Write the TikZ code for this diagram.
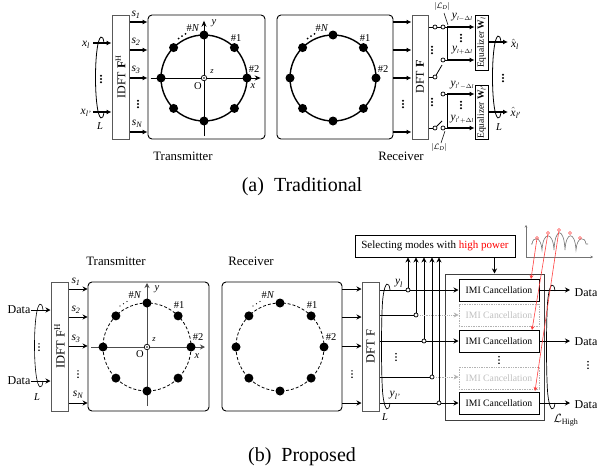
\documentclass[tikz,border=0pt]{standalone}
\usepackage{amsmath}
\usepackage{fontspec}
\setmainfont{Liberation Serif}
\usetikzlibrary{arrows.meta}
\newcommand\vi[1]{\textit{#1}}
\newcommand\vsub[2]{$\textit{#1}_{\textit{#2}}$}
\newcommand\yd[1]{\textit{y}\raisebox{-2pt}{\fontsize{5.8}{6}\selectfont #1}}
\newcommand\ringset[5]{%
 \begin{scope}[shift={(#2,#3)}]
  \draw[#4] (0,0) circle (#5);
  \foreach \a in {0,45,...,315}{\node[ringdot] (#1\a) at (\a:#5) {};}
 \end{scope}}
\newcommand\lcurve[4][tline]{\draw[#1] (#2+4,#3) .. controls (#2+3,#3-9) and (#2-1,#3-9) .. (#2-3,#3+7) .. controls (#2-5,#3+22) and (#2-5,#4-22) .. (#2-3,#4-7) .. controls (#2-1,#4+9) and (#2+3,#4+9) .. (#2+4,#4);}
\newcommand\vdotsb[3]{\foreach \d in {-3.2,0,3.2}{\fill (#1,#2+\d) circle (#3);}}
\newcommand\sdots[3]{\foreach \d in {0,3.5,7}{\fill (#1+\d,#2-\d*0.65) circle (#3);}}
\tikzset{
 tline/.style={line width=0.8pt,black},
 thk/.style={line width=1.5pt,black,-{Latex[length=5pt,width=5pt]}},
 thn/.style={line width=0.8pt,black,-{Stealth[length=5pt,width=5pt]}},
 gbox/.style={draw=black!65,fill=white,line width=1pt,inner sep=0pt},
 panel/.style={draw,line width=0.9pt,rounded corners=4pt,inner sep=0pt},
 ringdot/.style={circle,fill=black,inner sep=0pt,minimum size=9pt},
 port/.style={circle,draw,fill=white,line width=0.7pt,inner sep=0pt,minimum size=4pt},
 lab/.style={inner sep=0pt,font=\fontsize{10.5}{11}\selectfont},
 big/.style={inner sep=0pt,font=\fontsize{11.5}{12}\selectfont},
 small/.style={inner sep=0pt,font=\fontsize{8.5}{9}\selectfont},
 ttl/.style={inner sep=0pt,font=\fontsize{12.8}{14}\selectfont},
 captext/.style={inner sep=0pt,font=\fontsize{20}{22}\selectfont},
 rot/.style={inner sep=0pt,rotate=90,font=\fontsize{12}{13}\selectfont},
 eqt/.style={inner sep=0pt,rotate=90,font=\fontsize{9.5}{10}\selectfont},
 imi/.style={draw,line width=1pt,inner sep=0pt,minimum width=80pt,minimum height=22pt,font=\fontsize{9.7}{11}\selectfont},
 ghost/.style={draw=black!30,densely dotted,line width=0.7pt,inner sep=0pt,minimum width=80pt,minimum height=22pt,text=black!25,font=\fontsize{9.7}{11}\selectfont},
 redarr/.style={red!75,line width=0.6pt,-{Stealth[length=4pt,width=4pt]}},
 redring/.style={circle,draw=red!70,inner sep=0pt,minimum size=3pt,line width=0.5pt},
 axisline/.style={line width=1pt,black},
 axisarr/.style={line width=1pt,black,-{Stealth[length=6pt,width=5pt]}},
 axisthin/.style={black!70,line width=0.8pt},
 axisthinarr/.style={black!70,line width=0.8pt,-{Stealth[length=5pt,width=5pt]}},
 centre/.style={circle,draw,line width=0.7pt,fill=white,inner sep=0pt,minimum size=5.5pt},
}
\begin{document}
\begin{tikzpicture}[x=1pt,y=-1pt]
\useasboundingbox (0,0) rectangle (597,474);
%%%%%% TOP
\node[gbox,minimum width=17pt,minimum height=124pt] (idftA) at (120.5,77) {};
\node[rot] (idftAt) at (idftA.center) {IDFT \textbf{F}$^{\text{H}}$};
\node[panel,minimum width=117pt,minimum height=124pt] (txA) at (206.5,77) {};
\node[panel,minimum width=116pt,minimum height=124pt] (rxA) at (335,77) {};
\node[gbox,minimum width=16pt,minimum height=124pt] (dftA) at (420,77) {};
\node[rot] (dftAt) at (dftA.center) {DFT \textbf{F}};
\node[draw,line width=0.9pt,inner sep=0pt,minimum width=13pt,minimum height=55pt] (eqA) at (481.5,42.5) {};
\node[eqt] (eqAt) at (eqA.center) {Equalizer \textbf{W}$_{\textit{l}}$};
\node[draw,line width=0.9pt,inner sep=0pt,minimum width=13pt,minimum height=54pt] (eqB) at (481.5,112) {};
\node[eqt] (eqBt) at (eqB.center) {Equalizer \textbf{W}$_{\textit{l}'}$};
% inputs
\coordinate (xa) at (93,43); \coordinate (xb) at (93,112);
\draw[thk] (xa) -- (idftA.west |- xa);
\draw[thk] (xb) -- (idftA.west |- xb);
\node[big] (xal) at (86,45) {\vsub{x}{l}};
\node[big] (xbl) at (86,113) {\vsub{x}{l'}};
\lcurve{100}{43}{112}
\vdotsb{101}{79}{1.1}
\node[lab] (La) at (100,126) {\vi{L}};
% s arrows
\foreach \y in {22,50,78,132}{
  \draw[thk] (idftA.east |- 0,\y) -- (txA.west |- 0,\y);
  \draw[thk] (rxA.east |- 0,\y) -- (dftA.west |- 0,\y);
}
\node[big] (s1) at (136,15) {\vsub{s}{1}};
\node[big] (s2) at (136,42) {\vsub{s}{2}};
\node[big] (s3) at (136,70) {\vsub{s}{3}};
\node[big] (sN) at (137,124) {\vsub{s}{N}};
\vdotsb{138}{104}{1.1}
\vdotsb{403}{104}{1.1}
% Tx ring A
\node[centre] (oa) at (204,78) {};
\fill (oa.center) circle (0.9);
\draw[axisline] (150.7,78) -- (oa.west);
\draw[axisarr] (oa.east) -- (260.7,78);
\draw[axisline] (204,136) -- (oa.south);
\draw[axisarr] (oa.north) -- (204,20.7);
\ringset{ta}{204}{78}{line width=1.4pt}{43}
\node[lab] at (193,28) {\#\vi{N}};
\node[lab] at (236,38) {\#1};
\node[lab] at (254,69.5) {\#2};
\node[lab] at (253,86) {\vi{x}};
\node[lab] at (214,23) {\vi{y}};
\node[small] at (212,72) {\vi{z}};
\node[lab] at (198,86) {O};
\sdots{178.5}{38.5}{1}
% Rx ring A
\ringset{ra}{333}{78}{line width=1.4pt}{43}
\node[lab] at (322,28) {\#\vi{N}};
\node[lab] at (365,38) {\#1};
\node[lab] at (383,69.5) {\#2};
\sdots{307.5}{38.5}{1}
% Right switching
\node[port] (p1) at (435,27) {};
\node[port] (p2) at (443,27) {};
\node[port] (p3) at (435,77) {};
\node[port] (p4) at (443,60) {};
\node[port] (p5) at (443,94) {};
\node[port] (p6) at (435,128) {};
\node[port] (p7) at (443,128) {};
\coordinate (s3a) at (442,65);
\coordinate (s6a) at (442,121);
\draw[tline] (dftA.east |- p1) -- (p1);
\draw[tline] (p1) -- (p2);
\draw[tline] (dftA.east |- p3) -- (p3);
\draw[tline] (p3) -- (s3a);
\draw[tline] (dftA.east |- p6) -- (p6);
\draw[tline] (p6) -- (s6a);
\draw[tline] (p2) -- (447,27) -- (447,60) -- (p4);
\draw[tline] (p5) -- (447,94) -- (447,128) -- (p7);
\draw[thk] (447,27) -- (eqA.west |- 0,27);
\draw[thk] (447,60) -- (eqA.west |- 0,60);
\draw[thk] (447,94) -- (eqB.west |- 0,94);
\draw[thk] (447,128) -- (eqB.west |- 0,128);
\node[small] at (442,6.5) {$|\mathcal{L}_{\textit{D}}|$};
\node[small] at (439,147) {$|\mathcal{L}_{\textit{D}}|$};
\draw[line width=0.5pt] (444,13) -- (448,25);
\draw[line width=0.5pt] (445,131) -- (441,143);
\node[big] at (462,17) {\yd{\textit{l}${-}\Delta$\textit{l}}};
\node[big] at (462,50) {\yd{\textit{l}${+}\Delta$\textit{l}}};
\node[big] at (462,85) {\yd{\textit{l}$'{-}\Delta$\textit{l}}};
\node[big] at (462,119) {\yd{\textit{l}$'{+}\Delta$\textit{l}}};
\vdotsb{432}{50}{1.1}
\vdotsb{432}{102}{1.1}
\vdotsb{461}{38}{1.1}
\vdotsb{461}{105}{1.1}
\coordinate (oA) at (508,42); \coordinate (oB) at (508,112);
\draw[thk] (eqA.east |- oA) -- (oA);
\draw[thk] (eqB.east |- oB) -- (oB);
\lcurve{497}{42}{112}
\vdotsb{503}{78}{1.1}
\node[lab] at (499,127) {\vi{L}};
\node[big] at (515,44) {$\hat{\textit{x}}_{\textit{l}}$};
\node[big] at (516,113) {$\hat{\textit{x}}_{\textit{l}'}$};
\node[ttl] at (183,156) {Transmitter};
\node[ttl] at (401,156) {Receiver};
\node[captext] at (302,187) {(a)\enspace Traditional};
%%%%%% BOTTOM
\node[gbox,minimum width=17pt,minimum height=129pt] (idftB) at (59.5,346.5) {};
\node[rot,font=\fontsize{12.5}{13}\selectfont] at (idftB.center) {IDFT F$^{\text{H}}$};
\node[panel,minimum width=121pt,minimum height=129pt] (txB) at (148.5,346.5) {};
\node[panel,minimum width=120pt,minimum height=129pt] (rxB) at (282,346.5) {};
\node[gbox,minimum width=17pt,minimum height=129pt] (dftB) at (370.5,346.5) {};
\node[rot,font=\fontsize{12.5}{13}\selectfont] at (dftB.center) {DFT F};
\node[big,font=\fontsize{12}{13}\selectfont] (da) at (19,310) {Data};
\node[big,font=\fontsize{12}{13}\selectfont] (db) at (19,381) {Data};
\draw[thn] (da) -- (idftB.west |- da);
\draw[thn] (db) -- (idftB.west |- db);
\lcurve[line width=0.6pt]{39}{310}{381}
\vdotsb{39}{347}{0.8}
\node[lab] at (37,397) {\vi{L}};
\foreach \y in {289,317,346,403}{
  \draw[thn] (idftB.east |- 0,\y) -- (txB.west |- 0,\y);
  \draw[thn] (rxB.east |- 0,\y) -- (dftB.west |- 0,\y);
}
\node[big] at (76,282) {\vsub{s}{1}};
\node[big] at (76,310) {\vsub{s}{2}};
\node[big] at (76,339) {\vsub{s}{3}};
\node[big] at (78,395) {\vsub{s}{N}};
\vdotsb{78}{374}{0.8}
\vdotsb{352}{374}{0.8}
% Tx ring B
\node[centre] (ob) at (147,347) {};
\fill (ob.center) circle (0.9);
\draw[axisthin] (91,347) -- (ob.west);
\draw[axisthinarr] (ob.east) -- (205,347);
\draw[axisthin] (147,406) -- (ob.south);
\draw[axisthinarr] (ob.north) -- (147,283);
\ringset{tb}{147}{347}{line width=0.8pt,densely dashed}{44}
\node[lab] at (135,295) {\#\vi{N}};
\node[lab] at (179,305) {\#1};
\node[lab] at (198,337) {\#2};
\node[lab] at (197,356) {\vi{x}};
\node[lab] at (157,289) {\vi{y}};
\node[small] at (154,340) {\vi{z}};
\node[lab] at (140,354) {O};
\sdots{120}{306}{0.6}
% Rx ring B
\ringset{rb}{280}{347}{line width=0.8pt,densely dashed}{44}
\node[lab] at (268,295) {\#\vi{N}};
\node[lab] at (312,305) {\#1};
\node[lab] at (331,337) {\#2};
\sdots{253}{306}{0.6}
\node[ttl] at (116,261) {Transmitter};
\node[ttl] at (251,261) {Receiver};
\node[captext] at (302,457) {(b)\enspace Proposed};
% Right part
\node[draw=black!75,line width=1pt,inner sep=0pt,minimum width=99pt,minimum height=146pt] (outer) at (494.5,347) {};
\node[draw,line width=0.9pt,inner sep=0pt,minimum width=160pt,minimum height=22pt,font=\fontsize{11}{12}\selectfont] (sel) at (435,246) {Selecting modes with \textcolor{red}{high power}};
\node[imi] (i1) at (499,290) {IMI Cancellation};
\node[ghost] (i2) at (499,315.5) {IMI Cancellation};
\node[imi] (i3) at (499,341) {IMI Cancellation};
\node[ghost] (i4) at (499,378) {IMI Cancellation};
\node[imi] (i5) at (499,403) {IMI Cancellation};
\draw[thn] (sel.south -| outer.center) -- (outer.north);
\node[port] (q1) at (408,290) {};
\node[port] (q2) at (416,315) {};
\node[port] (q3) at (424,341) {};
\node[port] (q4) at (432,377) {};
\node[port] (q5) at (439,403) {};
\foreach \q in {q1,q2,q3,q4,q5}{
  \draw[thn] (\q.north) -- (\q |- sel.south);
}
\draw[tline] (dftB.east |- q1) -- (q1);
\draw[tline] (dftB.east |- q2) -- (q2);
\draw[tline] (dftB.east |- q3) -- (q3);
\draw[tline] (dftB.east |- q4) -- (q4);
\draw[tline] (dftB.east |- q5) -- (q5);
\draw[thn] (q1) -- (i1.west |- q1);
\draw[thn,black!30,densely dotted] (q2) -- (i2.west |- q2);
\draw[thn] (q3) -- (i3.west |- q3);
\draw[thn,black!30,densely dotted] (q4) -- (i4.west |- q4);
\draw[thn] (q5) -- (i5.west |- q5);
\node[big,font=\fontsize{12}{13}\selectfont] (o1) at (586,293) {Data};
\node[big,font=\fontsize{12}{13}\selectfont] (o2) at (586,342) {Data};
\node[big,font=\fontsize{12}{13}\selectfont] (o3) at (586,405) {Data};
\draw[thn] (i1.east) -- (570,290);
\draw[thn] (i3.east) -- (570,341);
\draw[thn] (i5.east) -- (570,403);
\lcurve[line width=0.7pt]{551}{291}{403}
\lcurve[line width=0.7pt]{386}{290}{403}
\node[lab] at (385,417) {\vi{L}};
\node[big] at (399,283) {\vsub{y}{l}};
\node[big] at (395,395) {\vsub{y}{l'}};
\node[big] at (566,420) {$\mathcal{L}_{\text{High}}$};
\vdotsb{396}{357}{0.9}
\vdotsb{499}{360}{0.9}
\vdotsb{588}{365}{0.9}
% spectrum
\draw[black!55,line width=0.5pt,-{Stealth[length=2.5pt,width=2.5pt]}] (526,257) -- (526,225);
\draw[black!55,line width=0.5pt,-{Stealth[length=2.5pt,width=2.5pt]}] (526,257) -- (593,257);
\draw[black!55,line width=0.6pt] (531,244) -- (532,244) .. controls (533,236) and (541,236) .. (542,250)
  .. controls (543,231) and (553,231) .. (554,250)
  .. controls (555,227) and (564,227) .. (565,250)
  .. controls (566,231) and (575,231) .. (576,250)
  .. controls (577,236) and (585,236) .. (586,244) -- (588,244);
\node[redring] (pk1) at (537,238) {};
\node[redring] (pk2) at (548,233) {};
\node[redring] (pk3) at (559,230) {};
\node[redring] (pk4) at (570,233) {};
\node[redring] (pk5) at (580,238) {};
\draw[redarr] (pk1) -- (531,279);
\draw[redarr] (pk2) -- (532,330);
\draw[redarr] (pk3) -- (535,391);
\end{tikzpicture}
\end{document}
